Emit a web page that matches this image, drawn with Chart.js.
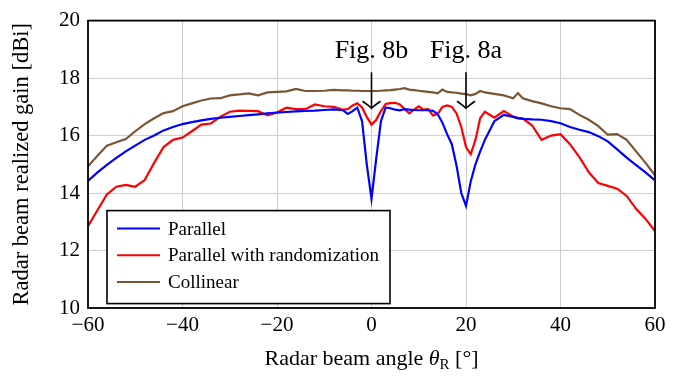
<!DOCTYPE html>
<html>
<head>
<meta charset="utf-8">
<script src="https://cdn.jsdelivr.net/npm/chart.js@4.4.1/dist/chart.umd.min.js"></script>
<style>
  html, body { margin: 0; padding: 0; background: #fff; }
  #wrap { width: 686px; height: 380px; }
</style>
</head>
<body>
<div id="wrap"><canvas id="chart"></canvas></div>
<script>
// beam angles in degrees (finer around the two notches)
const angles = [
  -60, -58, -56, -54, -52, -50, -48, -46, -44, -42, -40, -38, -36, -34, -32, -30, -28, -26, -24, -22,
  -20, -18, -16, -14, -12, -10, -8, -6,
  -5, -4, -3, -2, -1, 0, 1, 2, 3, 4, 5, 6, 7, 8, 9, 10, 11, 12, 13, 14, 15, 16, 17, 18, 19, 20,
  21, 22, 23, 24, 26, 28, 30, 31, 32, 34, 36, 38, 40, 42, 44, 46, 48, 50, 52, 54, 56, 58, 60
];

const parallel = [
  14.42, 14.72, 14.98, 15.22, 15.45, 15.65, 15.85, 16.0, 16.18, 16.3, 16.4, 16.47, 16.53, 16.58, 16.62, 16.65, 16.68, 16.71, 16.74, 16.77,
  16.8, 16.82, 16.84, 16.86, 16.87, 16.89, 16.91, 16.88,
  16.75, 16.85, 16.97, 16.5, 15.0, 13.8, 15.2, 16.5, 16.98, 16.95, 16.9, 16.88, 16.92, 16.9, 16.89, 16.88, 16.88, 16.88, 16.86, 16.75, 16.45, 16.05, 15.7, 14.95, 14.0, 13.55,
  14.4, 15.0, 15.45, 15.85, 16.5, 16.72, 16.65, 16.6, 16.58, 16.56, 16.55, 16.5, 16.43, 16.3, 16.2, 16.12, 15.98, 15.8, 15.52, 15.23, 14.97, 14.72, 14.44
];

const randomized = [
  12.85, 13.4, 13.95, 14.22, 14.28, 14.22, 14.45, 15.05, 15.6, 15.85, 15.93, 16.15, 16.38, 16.42, 16.65, 16.83, 16.87, 16.86, 16.85, 16.7,
  16.8, 16.97, 16.92, 16.92, 17.08, 17.02, 17.0, 16.9,
  16.92, 17.05, 17.12, 16.98, 16.65, 16.38, 16.55, 16.85, 17.1, 17.13, 17.14, 17.08, 16.92, 16.77, 16.9, 17.02, 16.9, 16.92, 16.7, 16.75, 17.0, 17.05, 17.0, 16.77, 16.3, 15.6,
  15.35, 15.85, 16.6, 16.83, 16.62, 16.85, 16.66, 16.62, 16.6, 16.35, 15.85, 16.0, 16.05, 15.7, 15.25, 14.72, 14.35, 14.25, 14.15, 13.9, 13.45, 13.1, 12.68
];

const collinear = [
  14.93, 15.3, 15.65, 15.77, 15.88, 16.15, 16.4, 16.6, 16.78, 16.85, 17.02, 17.12, 17.22, 17.29, 17.3, 17.4, 17.43, 17.47, 17.4, 17.5,
  17.52, 17.54, 17.62, 17.55, 17.55, 17.56, 17.59, 17.57,
  17.57, 17.56, 17.56, 17.55, 17.55, 17.55, 17.55, 17.56, 17.57, 17.58, 17.6, 17.62, 17.65, 17.6, 17.58, 17.56, 17.54, 17.52, 17.5, 17.47, 17.6, 17.52, 17.5, 17.49, 17.46, 17.44,
  17.4, 17.45, 17.55, 17.5, 17.45, 17.4, 17.3, 17.48, 17.3, 17.2, 17.12, 17.02, 16.95, 16.92, 16.72, 16.55, 16.33, 16.03, 16.05, 15.85, 15.45, 15.05, 14.62
];

const seriesNames = ['Parallel', 'Parallel with randomization', 'Collinear'];
const seriesColors = ['#0000ff', '#ff0000', '#7a5532'];
const seriesValues = [parallel, randomized, collinear];

const xTicks = [-60, -40, -20, 0, 20, 40, 60];
const yTicks = [10, 12, 14, 16, 18, 20];

// arrows pointing at the notches, with their labels
const marks = [
  { angle: 0, label: 'Fig. 8b' },
  { angle: 20, label: 'Fig. 8a' }
];

const SERIF = '"Liberation Serif", "DejaVu Serif", serif';

const decorations = {
  id: 'decorations',
  afterDraw(chart) {
    const { ctx, chartArea: a, scales: { x, y } } = chart;
    ctx.save();

    // notch arrows and captions
    ctx.strokeStyle = '#000';
    ctx.fillStyle = '#000';
    ctx.lineWidth = 1.6;
    ctx.font = '26px ' + SERIF;
    ctx.textAlign = 'center';
    ctx.textBaseline = 'alphabetic';
    marks.forEach(m => {
      const px = x.getPixelForValue(m.angle);
      const top = y.getPixelForValue(18.2);
      const tip = y.getPixelForValue(16.95);
      ctx.beginPath();
      ctx.moveTo(px, top);
      ctx.lineTo(px, tip);
      ctx.stroke();
      ctx.beginPath();
      ctx.moveTo(px - 9, tip - 7);
      ctx.quadraticCurveTo(px - 3, tip - 3, px, tip);
      ctx.quadraticCurveTo(px + 3, tip - 3, px + 9, tip - 7);
      ctx.stroke();
      ctx.fillText(m.label, px, y.getPixelForValue(18.7));
    });

    // legend box
    const lx = a.left + 19, ly = a.top + 190, lw = 283, lh = 93;
    ctx.fillStyle = '#fff';
    ctx.fillRect(lx, ly, lw, lh);
    ctx.strokeStyle = '#000';
    ctx.lineWidth = 1.6;
    ctx.strokeRect(lx, ly, lw, lh);
    ctx.font = '19px ' + SERIF;
    ctx.textAlign = 'left';
    ctx.textBaseline = 'middle';
    seriesNames.forEach((name, i) => {
      const ry = ly + 18 + i * 26.7;
      ctx.strokeStyle = seriesColors[i];
      ctx.lineWidth = 2;
      ctx.beginPath();
      ctx.moveTo(lx + 10, ry);
      ctx.lineTo(lx + 53, ry);
      ctx.stroke();
      ctx.fillStyle = '#000';
      ctx.fillText(name, lx + 61, ry + 1);
    });

    // frame
    ctx.strokeStyle = '#000';
    ctx.lineWidth = 1.8;
    ctx.strokeRect(a.left, a.top, a.right - a.left, a.bottom - a.top);

    // axis titles
    ctx.fillStyle = '#000';
    ctx.textBaseline = 'alphabetic';
    const cx = (a.left + a.right) / 2;
    const parts = [
      { t: 'Radar beam angle ', f: '22px ' + SERIF, dy: 0 },
      { t: 'θ', f: 'italic 22px ' + SERIF, dy: 0 },
      { t: 'R', f: '15px ' + SERIF, dy: 4 },
      { t: ' [°]', f: '22px ' + SERIF, dy: 0 }
    ];
    let total = 0;
    parts.forEach(p => { ctx.font = p.f; total += ctx.measureText(p.t).width; });
    let tx = cx - total / 2;
    ctx.textAlign = 'left';
    parts.forEach(p => {
      ctx.font = p.f;
      ctx.fillText(p.t, tx, 365 + p.dy);
      tx += ctx.measureText(p.t).width;
    });

    ctx.translate(22, (a.top + a.bottom) / 2);
    ctx.rotate(-Math.PI / 2);
    ctx.font = '22.5px ' + SERIF;
    ctx.textAlign = 'center';
    ctx.textBaseline = 'middle';
    ctx.fillText('Radar beam realized gain [dBi]', 0, 0);
    ctx.restore();
  }
};

new Chart(document.getElementById('chart'), {
  type: 'line',
  data: {
    datasets: seriesNames.map((name, i) => ({
      label: name,
      data: angles.map((a, k) => ({ x: a, y: seriesValues[i][k] })),
      borderColor: seriesColors[i],
      backgroundColor: seriesColors[i],
      borderWidth: 2.2,
      pointRadius: 0,
      tension: 0,
      fill: false
    }))
  },
  options: {
    responsive: true,
    maintainAspectRatio: false,
    animation: false,
    layout: { padding: { top: 15, right: 31, left: 0, bottom: 0 } },
    plugins: { legend: { display: false }, tooltip: { enabled: false } },
    scales: {
      x: {
        type: 'linear',
        min: -60,
        max: 60,
        afterBuildTicks: s => { s.ticks = xTicks.map(v => ({ value: v })); },
        afterFit: s => { s.height = 72; },
        grid: { color: '#cfcfcf', lineWidth: 1, drawTicks: false },
        border: { display: false },
        ticks: {
          padding: 5,
          color: '#000',
          font: { family: SERIF, size: 21 },
          callback: v => String(v).replace('-', '\u2212')
        }
      },
      y: {
        min: 10,
        max: 20,
        afterBuildTicks: s => { s.ticks = yTicks.map(v => ({ value: v })); },
        afterFit: s => { s.width = 88; },
        grid: { color: '#cfcfcf', lineWidth: 1, drawTicks: false },
        border: { display: false },
        ticks: {
          padding: 8,
          color: '#000',
          font: { family: SERIF, size: 21 }
        }
      }
    }
  },
  plugins: [decorations]
});
</script>
</body>
</html>
